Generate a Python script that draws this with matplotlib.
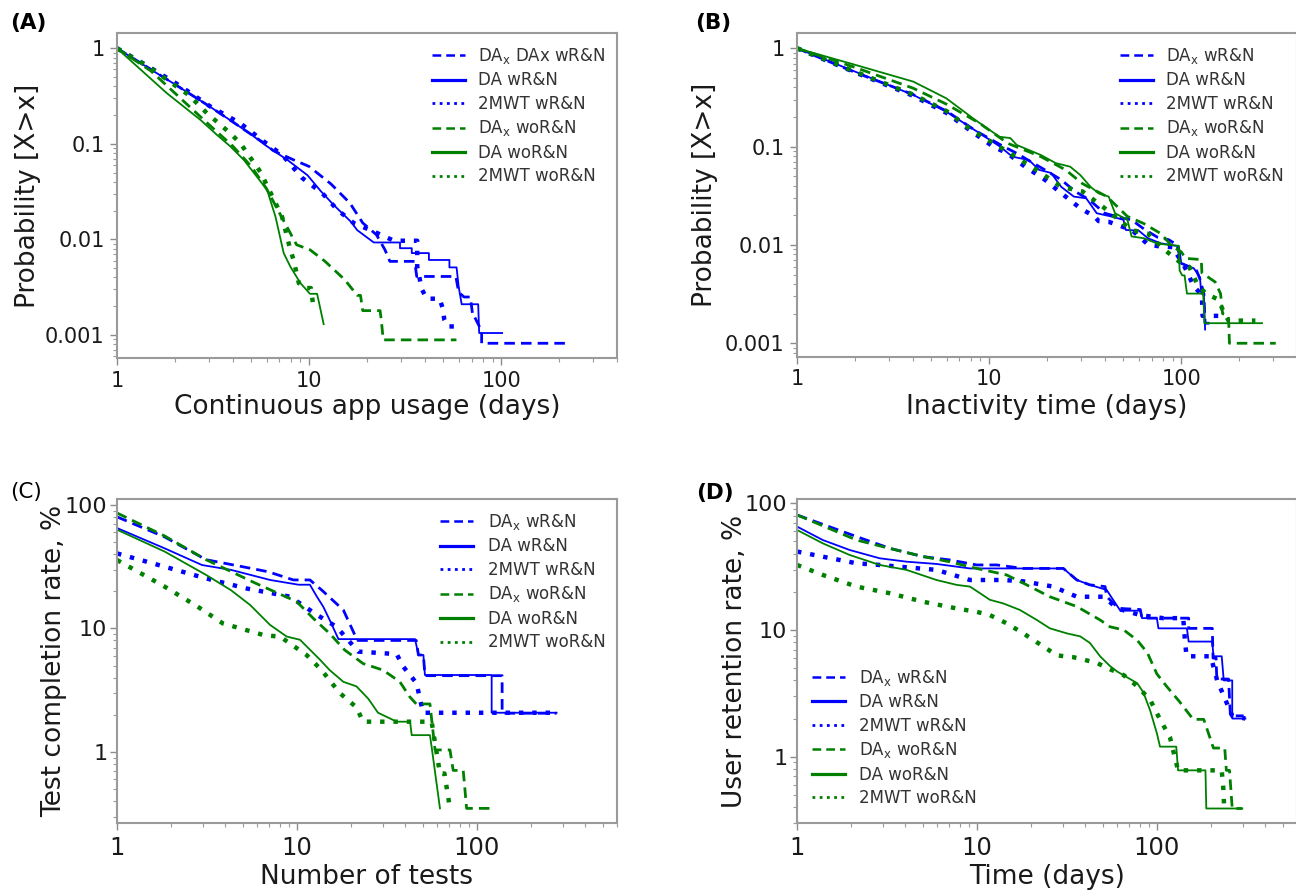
import matplotlib
matplotlib.use("Agg")
import matplotlib.pyplot as plt
from matplotlib.lines import Line2D
from matplotlib.ticker import NullFormatter, LogLocator

# ---------------- data ----------------
labels_A = ["DA$_\\mathregular{x}$ DAx wR&N", "DA wR&N", "2MWT wR&N",
            "DA$_\\mathregular{x}$ woR&N", "DA woR&N", "2MWT woR&N"]
labels_std = ["DA$_\\mathregular{x}$ wR&N", "DA wR&N", "2MWT wR&N",
              "DA$_\\mathregular{x}$ woR&N", "DA woR&N", "2MWT woR&N"]

# Panel A: continuous app usage (days) -> P(X>x)
A_dax_w_x = [1, 2, 3, 4, 5.9, 6.5, 8.3, 10, 13, 16.3, 19, 22.4, 24.8, 26.3, 35.4, 36.3, 58, 60, 64, 69, 71, 72, 79, 79, 219]
A_dax_w_y = [1, 0.42, 0.25, 0.17, 0.1, 0.085, 0.068, 0.058, 0.038, 0.024, 0.0149, 0.0112, 0.0078, 0.0059, 0.0059, 0.0041, 0.0041, 0.0028, 0.0025, 0.0025, 0.0016, 0.0016, 0.0011, 0.00082, 0.00082]
A_da_w_x = [1, 1.5, 2, 3, 4, 5, 6, 7.7, 9.8, 11.5, 13.4, 16.4, 17.8, 20, 21.7, 29.7, 29.7, 34.2, 34.2, 42, 42, 53.7, 53.7, 58.5, 60, 62.2, 75.8, 76.7, 101]
A_da_w_y = [1, 0.6, 0.42, 0.25, 0.17, 0.125, 0.095, 0.068, 0.047, 0.032, 0.023, 0.0155, 0.0125, 0.0105, 0.0093, 0.0093, 0.0081, 0.0081, 0.0072, 0.0072, 0.0061, 0.0061, 0.0051, 0.0051, 0.0032, 0.0021, 0.0021, 0.00105, 0.00105]
A_mw_w_x = [1, 1.46, 2.09, 3.06, 4.39, 5.8, 7.23, 9.2, 11.7, 14.0, 17.1, 21.7, 27.6, 31.5, 36.5, 36.5, 38.6, 41, 47.7, 49.6, 50.5, 52.5, 61.2]
A_mw_w_y = [1, 0.643, 0.414, 0.246, 0.164, 0.106, 0.077, 0.044, 0.0305, 0.0205, 0.0148, 0.0121, 0.0097, 0.0097, 0.0097, 0.0052, 0.0030, 0.0024, 0.0024, 0.0019, 0.00145, 0.00123, 0.00123]
A_dax_wo_x = [1, 1.5, 2, 3, 4, 5, 6, 7, 8.6, 10.1, 12.1, 15.3, 17.8, 18.5, 19, 23.4, 23.8, 24.3, 58.4]
A_dax_wo_y = [1, 0.58, 0.34, 0.16, 0.095, 0.058, 0.034, 0.019, 0.0088, 0.0078, 0.0059, 0.0038, 0.0026, 0.0026, 0.0018, 0.0018, 0.00136, 0.00089, 0.00089]
A_da_wo_x = [1, 1.82, 2.72, 3.3, 3.89, 4.57, 6.04, 6.68, 7.37, 7.98, 9.0, 10.1, 11.0, 11.9]
A_da_wo_y = [1, 0.338, 0.178, 0.125, 0.094, 0.068, 0.033, 0.0173, 0.0072, 0.0052, 0.0035, 0.0027, 0.0027, 0.0013]
A_mw_wo_x = [1, 1.5, 2, 2.36, 2.94, 3.89, 4.39, 5.57, 6.29, 7.22, 7.98, 8.3, 8.83, 9.4, 10.2, 10.6]
A_mw_wo_y = [1, 0.62, 0.41, 0.325, 0.209, 0.129, 0.101, 0.051, 0.031, 0.0174, 0.0078, 0.0061, 0.0035, 0.0031, 0.0031, 0.0018]

# Panel B: inactivity time (days) -> P(X>x)
B_dax_w_x = [1, 2, 4, 6, 8.5, 11.9, 14, 16.5, 19.5, 23.7, 28, 33, 40, 48, 55, 64, 75, 86, 95, 100, 110, 120, 125, 131, 133, 140]
B_dax_w_y = [1, 0.57, 0.34, 0.23, 0.145, 0.1, 0.085, 0.07, 0.058, 0.046, 0.035, 0.029, 0.021, 0.019, 0.018, 0.0145, 0.012, 0.0113, 0.01, 0.0065, 0.006, 0.0055, 0.0045, 0.0032, 0.0016, 0.0016]
B_da_w_x = [1, 2, 4.03, 5.98, 8.9, 11.4, 13.2, 16.1, 18.2, 21, 23.7, 27.6, 32, 36.3, 43, 50, 51.4, 60, 67, 78, 97, 100, 110, 116, 125, 127, 131, 133]
B_da_w_y = [1, 0.58, 0.335, 0.227, 0.137, 0.1, 0.079, 0.073, 0.058, 0.054, 0.039, 0.031, 0.0298, 0.021, 0.0195, 0.018, 0.0142, 0.014, 0.0117, 0.0104, 0.0097, 0.0065, 0.006, 0.0058, 0.0047, 0.0032, 0.0032, 0.00138]
B_mw_w_x = [1, 2, 4, 6, 8, 10.5, 12.5, 15.3, 19.5, 22.1, 29.8, 35.3, 37.1, 41.8, 55.2, 67.5, 76.6, 90, 104, 116, 128, 129, 166]
B_mw_w_y = [1, 0.57, 0.33, 0.22, 0.145, 0.1, 0.085, 0.063, 0.046, 0.0376, 0.0236, 0.0195, 0.0175, 0.0172, 0.0142, 0.010, 0.0097, 0.0095, 0.006, 0.0038, 0.0031, 0.0019, 0.0019]
B_dax_wo_x = [1, 2, 4.03, 6, 8.9, 12.5, 18.6, 25, 30.6, 41, 52.4, 63.8, 78.4, 90, 100, 105, 127, 128, 150, 160, 164, 176, 178, 310]
B_dax_wo_y = [1, 0.64, 0.392, 0.27, 0.173, 0.108, 0.079, 0.058, 0.042, 0.031, 0.0195, 0.0165, 0.013, 0.0096, 0.0085, 0.0073, 0.0071, 0.0052, 0.0042, 0.0032, 0.002, 0.0019, 0.001, 0.001]
B_da_wo_x = [1, 2, 4.03, 5.98, 8.45, 11.3, 12.9, 13.9, 18.6, 22.2, 26.4, 29.8, 33.7, 37.1, 41.9, 45.2, 52.4, 55.1, 63.8, 74.4, 86, 97, 98, 101, 104, 107, 130, 132, 263]
B_da_wo_y = [1, 0.68, 0.458, 0.31, 0.187, 0.126, 0.122, 0.104, 0.082, 0.068, 0.0625, 0.0514, 0.039, 0.0335, 0.031, 0.021, 0.018, 0.0122, 0.0117, 0.0104, 0.0100, 0.0098, 0.0055, 0.0049, 0.0049, 0.0032, 0.0032, 0.0016, 0.0016]
B_mw_wo_x = [1, 2, 4, 6, 8.05, 11.3, 18.6, 23.7, 30.6, 39, 55, 67, 82, 100, 110, 121, 134, 155, 168, 176, 243]
B_mw_wo_y = [1, 0.58, 0.34, 0.23, 0.148, 0.1, 0.054, 0.039, 0.035, 0.0245, 0.0142, 0.013, 0.0089, 0.0065, 0.006, 0.004, 0.0032, 0.0028, 0.002, 0.0017, 0.0017]

# Panel C: number of tests -> test completion rate, %
C_dax_w_x = [1, 1.84, 3.13, 4.77, 6.9, 9.55, 11.8, 13.7, 18.1, 21.4, 21.8, 46, 47.3, 50.4, 51.4, 138, 138, 277]
C_dax_w_y = [80, 55, 36, 32, 28.8, 24.7, 24.7, 20.5, 14.1, 8.3, 8.0, 8.0, 6.1, 6.1, 4.15, 4.15, 2.06, 2.06]
C_da_w_x = [1, 1.84, 2.97, 4.3, 7.08, 10.2, 11.8, 12.9, 14.0, 15.2, 17.0, 45.3, 47.3, 50.4, 51.4, 120.7, 120.7, 277]
C_da_w_y = [65, 44.5, 32.6, 29.8, 24.7, 22.6, 22.6, 18.1, 15.0, 11.7, 8.2, 8.2, 6.1, 6.1, 4.2, 4.2, 2.08, 2.08]
C_mw_w_x = [1, 1.84, 3.13, 5.3, 9.14, 12.9, 16.6, 21.9, 35.8, 39, 46.2, 48.2, 50.3, 277]
C_mw_w_y = [40.5, 31.6, 25.4, 21.0, 18.1, 12.9, 10.3, 6.5, 6.2, 4.9, 3.6, 2.7, 2.08, 2.08]
C_dax_wo_x = [1, 1.84, 3.13, 5.9, 9.96, 12.3, 15.2, 18.4, 23.3, 30.1, 37.3, 42.3, 46.0, 54.8, 58.5, 70.8, 73.8, 83.9, 87.6, 118]
C_dax_wo_y = [86, 56, 36, 23.2, 16.5, 12.1, 9.1, 6.7, 5.2, 4.6, 3.7, 2.8, 2.45, 2.45, 1.04, 1.04, 0.71, 0.71, 0.35, 0.35]
C_da_wo_x = [1, 1.84, 3.13, 4.3, 5.49, 7.08, 8.77, 10.4, 13.4, 15.2, 18.1, 21.4, 24.9, 28.2, 35.8, 42.5, 43.4, 54.8, 56, 62.3]
C_da_wo_y = [63, 41.9, 27.1, 20.4, 15.5, 10.7, 8.6, 8.1, 5.6, 4.6, 3.7, 3.4, 2.7, 2.08, 1.76, 1.76, 1.37, 1.37, 1.1, 0.35]
C_mw_wo_x = [1, 1.84, 2.81, 3.87, 6.6, 8.05, 11.3, 13.7, 17.3, 21.4, 23.3, 56, 62.3, 66, 70.8, 73]
C_mw_wo_y = [35.8, 21.8, 15.0, 11.0, 8.8, 8.6, 6.1, 4.6, 3.0, 2.3, 1.76, 1.76, 0.67, 0.67, 0.35, 0.35]

# Panel D: time (days) -> user retention rate, %
D_dax_w_x = [1, 2.14, 3.28, 5.02, 7.07, 9.96, 12.9, 18.1, 30.2, 35.9, 42.4, 51.5, 52.6, 54.8, 61.3, 80.8, 82.6, 150, 150, 203, 205, 213, 215, 250, 256, 303]
D_dax_w_y = [80.9, 54.6, 44.1, 37.9, 35.7, 32.6, 32.6, 30.6, 30.6, 24.8, 22.7, 22.0, 18.3, 17.3, 14.8, 14.5, 12.4, 12.4, 10.3, 10.3, 6.0, 6.0, 4.1, 4.1, 2.1, 2.1]
D_da_w_x = [1, 1.39, 1.96, 2.88, 4.06, 5.96, 9.14, 11.8, 30.2, 35.9, 42.4, 52.6, 55.6, 62.6, 80.8, 82.6, 99.9, 101.9, 146.7, 150, 203, 206, 229, 235, 262, 262, 310]
D_da_w_y = [65.5, 51.3, 42.8, 36.8, 34.6, 33.2, 30.6, 30.6, 30.6, 24.8, 22.7, 20.7, 18.3, 14.2, 14.2, 12.4, 12.4, 10.3, 10.3, 8.1, 8.1, 6.2, 6.2, 4.0, 4.0, 2.0, 2.0]
D_mw_w_x = [1, 1.39, 2.14, 2.88, 5.96, 9.14, 14, 18.1, 26.5, 35.9, 50.6, 60.1, 80.8, 108, 140, 143, 146, 199, 216, 262, 310]
D_mw_w_y = [41.6, 37.9, 33.6, 32.6, 29.8, 24.8, 24.8, 24.2, 22.0, 18.3, 18.3, 14.8, 13.1, 12.4, 12.4, 8.3, 6.2, 6.2, 4.0, 2.1, 2.0]
D_dax_wo_x = [1, 2.14, 3.28, 5.02, 7.07, 9.96, 14.6, 18.1, 25.4, 35.9, 48.3, 54.8, 65.4, 77.7, 88.5, 99.9, 113, 134, 159, 182, 206, 238, 243, 253, 262, 298]
D_dax_wo_y = [80.9, 51.3, 44.0, 38.0, 34.5, 30.6, 27.2, 23.4, 18.3, 15.3, 12.0, 10.6, 10.0, 8.3, 6.6, 4.5, 3.6, 2.7, 1.97, 1.97, 1.17, 1.17, 0.78, 0.78, 0.39, 0.39]
D_da_wo_x = [1, 1.39, 1.96, 2.88, 4.06, 5.96, 7.7, 9.14, 10.4, 11.8, 14, 17.3, 21.5, 25.4, 31.6, 37.5, 42.4, 48.3, 54.8, 60.1, 77.7, 84.2, 91.8, 99.9, 104, 128, 131, 186, 188, 298]
D_da_wo_y = [61.6, 48.3, 39.1, 32.6, 29.8, 24.8, 22.7, 22.0, 19.5, 17.3, 16.2, 14.4, 12.0, 10.3, 9.4, 8.9, 7.9, 6.2, 5.2, 4.7, 3.8, 3.2, 2.3, 1.53, 1.2, 1.2, 0.78, 0.78, 0.39, 0.39]
D_mw_wo_x = [1, 1.39, 2.14, 3.28, 5.02, 7.7, 9.96, 11.8, 14.6, 18.1, 23.4, 27.8, 34.3, 46.3, 54.8, 65.4, 77.7, 91.8, 104, 118, 131, 229, 234, 236]
D_mw_wo_y = [32.6, 27.2, 22.0, 19.5, 16.7, 14.8, 13.9, 13.1, 11.3, 9.4, 7.4, 6.3, 6.1, 5.5, 4.9, 4.4, 3.6, 2.8, 1.97, 1.43, 0.78, 0.78, 0.55, 0.41]

# ---------------- figure ----------------
W, H = 1296, 891
fig = plt.figure(figsize=(W / 100, H / 100), dpi=100)

BLUE = "blue"
GREEN = "green"
styles = [
    dict(color=BLUE, ls=(0, (3.8, 2.2)), lw=2.0),
    dict(color=BLUE, ls="-", lw=1.3),
    dict(color=BLUE, ls=(0, (1, 2.0)), lw=3.2),
    dict(color=GREEN, ls=(0, (3.8, 2.2)), lw=2.0),
    dict(color=GREEN, ls="-", lw=1.3),
    dict(color=GREEN, ls=(0, (1, 2.0)), lw=3.2),
]
leg_styles = [
    dict(color=BLUE, ls=(0, (3.5, 2)), lw=1.8),
    dict(color=BLUE, ls="-", lw=2.3),
    dict(color=BLUE, ls=(0, (1, 1.6)), lw=2.0),
    dict(color=GREEN, ls=(0, (3.5, 2)), lw=1.8),
    dict(color=GREEN, ls="-", lw=2.3),
    dict(color=GREEN, ls=(0, (1, 1.6)), lw=2.0),
]


def px_rect(l, r, t, b):
    return [l / W, (H - b) / H, (r - l) / W, (b - t) / H]


def make_axes(rect, xlim, ylim, yticks, yticklabels, xtick_fs, ytick_fs, ypad):
    ax = fig.add_axes(rect)
    ax.set_xscale("log")
    ax.set_yscale("log")
    ax.set_xlim(*xlim)
    ax.set_ylim(*ylim)
    ax.set_xticks([1, 10, 100])
    ax.set_xticklabels(["1", "10", "100"])
    ax.set_yticks(yticks)
    ax.set_yticklabels(yticklabels)
    ax.xaxis.set_minor_locator(LogLocator(base=10, subs=range(2, 10), numticks=20))
    ax.yaxis.set_minor_locator(LogLocator(base=10, subs=range(2, 10), numticks=20))
    ax.xaxis.set_minor_formatter(NullFormatter())
    ax.yaxis.set_minor_formatter(NullFormatter())
    ax.tick_params(which="major", length=5, width=1.0, color="#8c8c8c",
                   labelcolor="#1a1a1a")
    ax.tick_params(axis="x", which="major", labelsize=xtick_fs, pad=4)
    ax.tick_params(axis="y", which="major", labelsize=ytick_fs, pad=ypad)
    ax.tick_params(which="minor", length=3, width=0.8, color="#9a9a9a")
    for sp in ax.spines.values():
        sp.set_color("#9a9a9a")
        sp.set_linewidth(1.5)
    return ax


def draw(ax, series):
    for (x, y), st in zip(series, styles):
        ax.plot(x, y, **st)


def legend(ax, labels, anchor, gap):
    handles = [Line2D([], [], **st) for st in leg_styles]
    ax.legend(handles, labels, loc="upper left", bbox_to_anchor=anchor,
              frameon=False, fontsize=12, labelcolor="#333333",
              borderpad=0, borderaxespad=0, handlelength=2.0,
              handletextpad=gap, labelspacing=0.33)


LABEL_FS = 19

# Panel A
axA = make_axes(px_rect(117, 617, 33.3, 358.3), (1, 400), (0.000571, 1.435),
                [1, 0.1, 0.01, 0.001], ["1", "0.1", "0.01", "0.001"], 15, 15, 4)
draw(axA, [(A_dax_w_x, A_dax_w_y), (A_da_w_x, A_da_w_y), (A_mw_w_x, A_mw_w_y),
           (A_dax_wo_x, A_dax_wo_y), (A_da_wo_x, A_da_wo_y), (A_mw_wo_x, A_mw_wo_y)])
axA.set_xlabel("Continuous app usage (days)", fontsize=LABEL_FS, color="#1a1a1a")
axA.set_ylabel("Probability [X>x]", fontsize=LABEL_FS, color="#1a1a1a")
axA.xaxis.set_label_coords(0.5, -0.11)
axA.yaxis.set_label_coords(-0.152, 0.5)
legend(axA, labels_A, (0.63, 0.961), 0.75)

# Panel B
axB = make_axes(px_rect(797, 1297, 33.3, 356.7), (1, 400), (0.00073, 1.42),
                [1, 0.1, 0.01, 0.001], ["1", "0.1", "0.01", "0.001"], 15, 15, 4)
draw(axB, [(B_dax_w_x, B_dax_w_y), (B_da_w_x, B_da_w_y), (B_mw_w_x, B_mw_w_y),
           (B_dax_wo_x, B_dax_wo_y), (B_da_wo_x, B_da_wo_y), (B_mw_wo_x, B_mw_wo_y)])
axB.set_xlabel("Inactivity time (days)", fontsize=LABEL_FS, color="#1a1a1a")
axB.set_ylabel("Probability [X>x]", fontsize=LABEL_FS, color="#1a1a1a")
axB.xaxis.set_label_coords(0.5, -0.115)
axB.yaxis.set_label_coords(-0.158, 0.5)
legend(axB, labels_std, (0.646, 0.961), 0.75)

# Panel C
axC = make_axes(px_rect(117, 617, 499.3, 823.3), (1, 600), (0.265, 111),
                [1, 10, 100], ["1", "10", "100"], 17.5, 16, 2)
draw(axC, [(C_dax_w_x, C_dax_w_y), (C_da_w_x, C_da_w_y), (C_mw_w_x, C_mw_w_y),
           (C_dax_wo_x, C_dax_wo_y), (C_da_wo_x, C_da_wo_y), (C_mw_wo_x, C_mw_wo_y)])
axC.set_xlabel("Number of tests", fontsize=LABEL_FS, color="#1a1a1a")
axC.set_ylabel("Test completion rate, %", fontsize=LABEL_FS, color="#1a1a1a")
axC.xaxis.set_label_coords(0.5, -0.125)
axC.yaxis.set_label_coords(-0.1, 0.5)
legend(axC, labels_std, (0.646, 0.961), 0.85)

# Panel D
axD = make_axes(px_rect(797, 1297, 499.3, 823.3), (1, 600), (0.298, 107.5),
                [1, 10, 100], ["1", "10", "100"], 17.5, 16, 2)
draw(axD, [(D_dax_w_x, D_dax_w_y), (D_da_w_x, D_da_w_y), (D_mw_w_x, D_mw_w_y),
           (D_dax_wo_x, D_dax_wo_y), (D_da_wo_x, D_da_wo_y), (D_mw_wo_x, D_mw_wo_y)])
axD.set_xlabel("Time (days)", fontsize=LABEL_FS, color="#1a1a1a")
axD.set_ylabel("User retention rate, %", fontsize=LABEL_FS, color="#1a1a1a")
axD.xaxis.set_label_coords(0.5, -0.125)
axD.yaxis.set_label_coords(-0.098, 0.5)
legend(axD, labels_std, (0.029, 0.4806), 0.85)

# panel letters
for txt, x, y, wt in [("(A)", 10, 23, "bold"), ("(B)", 695, 23, "bold"),
                      ("(C)", 10, 492, "normal"), ("(D)", 696, 493, "bold")]:
    fig.text(x / W, 1 - y / H, txt, fontsize=15.5, fontweight=wt,
             family="DejaVu Sans", va="center", ha="left", color="black")

fig.savefig("out.png", dpi=100)
